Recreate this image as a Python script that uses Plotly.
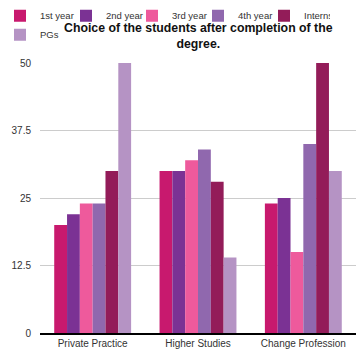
import plotly.graph_objects as go

categories = ["Private Practice", "Higher Studies", "Change Profession"]
series_names = ["1st year", "2nd year", "3rd year", "4th year", "Interns", "PGs"]
first_year = [20, 30, 24]
second_year = [22, 30, 25]
third_year = [24, 32, 15]
fourth_year = [24, 34, 35]
interns = [30, 28, 50]
pgs = [50, 14, 30]
tick_vals = [0, 12.5, 25, 37.5, 50]
tick_text = ["0", "12.5", "25", "37.5", "50"]

colors = ["#C8196E", "#7B3294", "#EE5A9C", "#9068AE", "#931C59", "#B593C4"]
values = [first_year, second_year, third_year, fourth_year, interns, pgs]

fig = go.Figure()
for name, vals, col in zip(series_names, values, colors):
    fig.add_trace(go.Bar(name=name, x=categories, y=vals, marker=dict(color=col, line=dict(width=0))))

fig.update_layout(
    width=356, height=352,
    margin=dict(l=40, r=0, t=63, b=19),
    paper_bgcolor="white", plot_bgcolor="white",
    barmode="group", bargap=0.27, bargroupgap=0,
    font=dict(family="Liberation Sans, Arial, sans-serif", color="#333333"),
    title=dict(
        text="<b>Choice of the students after completion of the<br>degree.</b>",
        x=0.557, xanchor="center", y=1 - 32/352, yanchor="top", yref="container",
        font=dict(size=12.3, color="#111111"),
    ),
    legend=dict(
        orientation="h", x=-0.1266, xanchor="left", y=1.229, yanchor="top",
        font=dict(size=9.5, color="#333333"), bgcolor="rgba(0,0,0,0)",
        itemwidth=30, tracegroupgap=0, entrywidth=21, entrywidthmode="pixels",
    ),
    showlegend=True,
)
fig.update_yaxes(
    range=[0, 50], tickvals=tick_vals, ticktext=tick_text,
    showgrid=True, gridcolor="#CCCCCC", gridwidth=1,
    zeroline=False, showline=False, ticks="", ticklabelstandoff=8,
    tickfont=dict(size=10, color="#333333"),
)
fig.update_xaxes(
    showline=True, linecolor="#000000", linewidth=2,
    ticks="", tickfont=dict(size=10, color="#333333"),
)
fig.write_html("out.html")
